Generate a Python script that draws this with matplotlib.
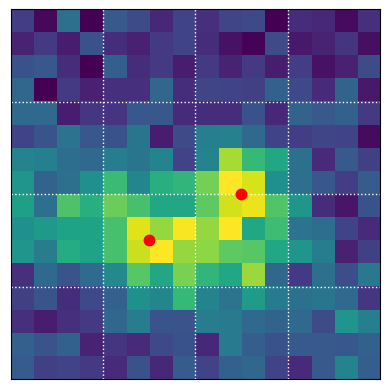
import numpy as np
import matplotlib
matplotlib.use("Agg")
import matplotlib.pyplot as plt

# grid values, top row first
row00 = [.18, .02, .37, .00, .28, .23, .11, .20, .14, .21, .22, .00, .13, .11, .03, .14]
row01 = [.10, .17, .08, .25, .13, .09, .17, .20, .13, .05, .01, .23, .07, .10, .15, .04]
row02 = [.25, .27, .13, .00, .30, .13, .17, .08, .17, .10, .17, .08, .18, .05, .09, .23]
row03 = [.33, .00, .17, .09, .14, .14, .33, .13, .21, .20, .19, .31, .22, .12, .32, .07]
row04 = [.34, .34, .08, .16, .15, .27, .27, .12, .13, .13, .25, .11, .32, .28, .31, .17]
row05 = [.20, .26, .38, .27, .25, .39, .08, .23, .43, .44, .34, .20, .18, .21, .20, .03]
row06 = [.45, .43, .36, .34, .42, .39, .45, .20, .45, .87, .67, .60, .37, .12, .28, .19]
row07 = [.52, .32, .37, .50, .68, .46, .63, .66, .79, 1.0, .94, .50, .37, .27, .18, .29]
row08 = [.57, .37, .72, .63, .77, .71, .60, .60, .75, .93, .97, .73, .53, .13, .06, .25]
row09 = [.50, .54, .58, .58, .71, .95, .84, .99, .84, 1.0, .60, .69, .38, .36, .20, .12]
row10 = [.52, .42, .62, .58, .71, .92, 1.0, .84, .83, .75, .74, .60, .52, .42, .09, .19]
row11 = [.14, .34, .26, .35, .47, .74, .60, .80, .66, .60, .85, .33, .17, .37, .24, .40]
row12 = [.19, .26, .13, .22, .31, .50, .46, .67, .45, .38, .55, .41, .37, .39, .34, .16]
row13 = [.14, .08, .14, .17, .33, .42, .26, .26, .42, .41, .34, .32, .34, .23, .52, .43]
row14 = [.31, .26, .31, .10, .15, .12, .22, .25, .11, .41, .30, .25, .28, .28, .27, .31]
row15 = [.29, .19, .20, .17, .12, .25, .11, .29, .20, .31, .33, .20, .12, .28, .45, .30]

grid = np.array([row00, row01, row02, row03, row04, row05, row06, row07,
                 row08, row09, row10, row11, row12, row13, row14, row15])

# red points and the dotted divisions
point_x = [9.5, 5.5]
point_y = [7.5, 9.5]
divisions = [3.5, 7.5, 11.5]

fig = plt.figure(figsize=(3.89, 3.89), dpi=100)
ax = fig.add_axes([10.5 / 389, 1 - 379 / 389, 369.5 / 389, 369.7 / 389])
ax.imshow(grid, cmap="viridis", vmin=0, vmax=1, aspect="auto")
ax.plot(point_x, point_y, "o", color="red", markersize=7.5)

ax.set_xticks(divisions)
ax.set_yticks(divisions)
ax.tick_params(length=0, labelbottom=False, labelleft=False)
ax.grid(color="white", linestyle=":", linewidth=1)
ax.set_xlim(-0.5, 15.5)
ax.set_ylim(15.5, -0.5)

fig.savefig("out.png", dpi=100)
